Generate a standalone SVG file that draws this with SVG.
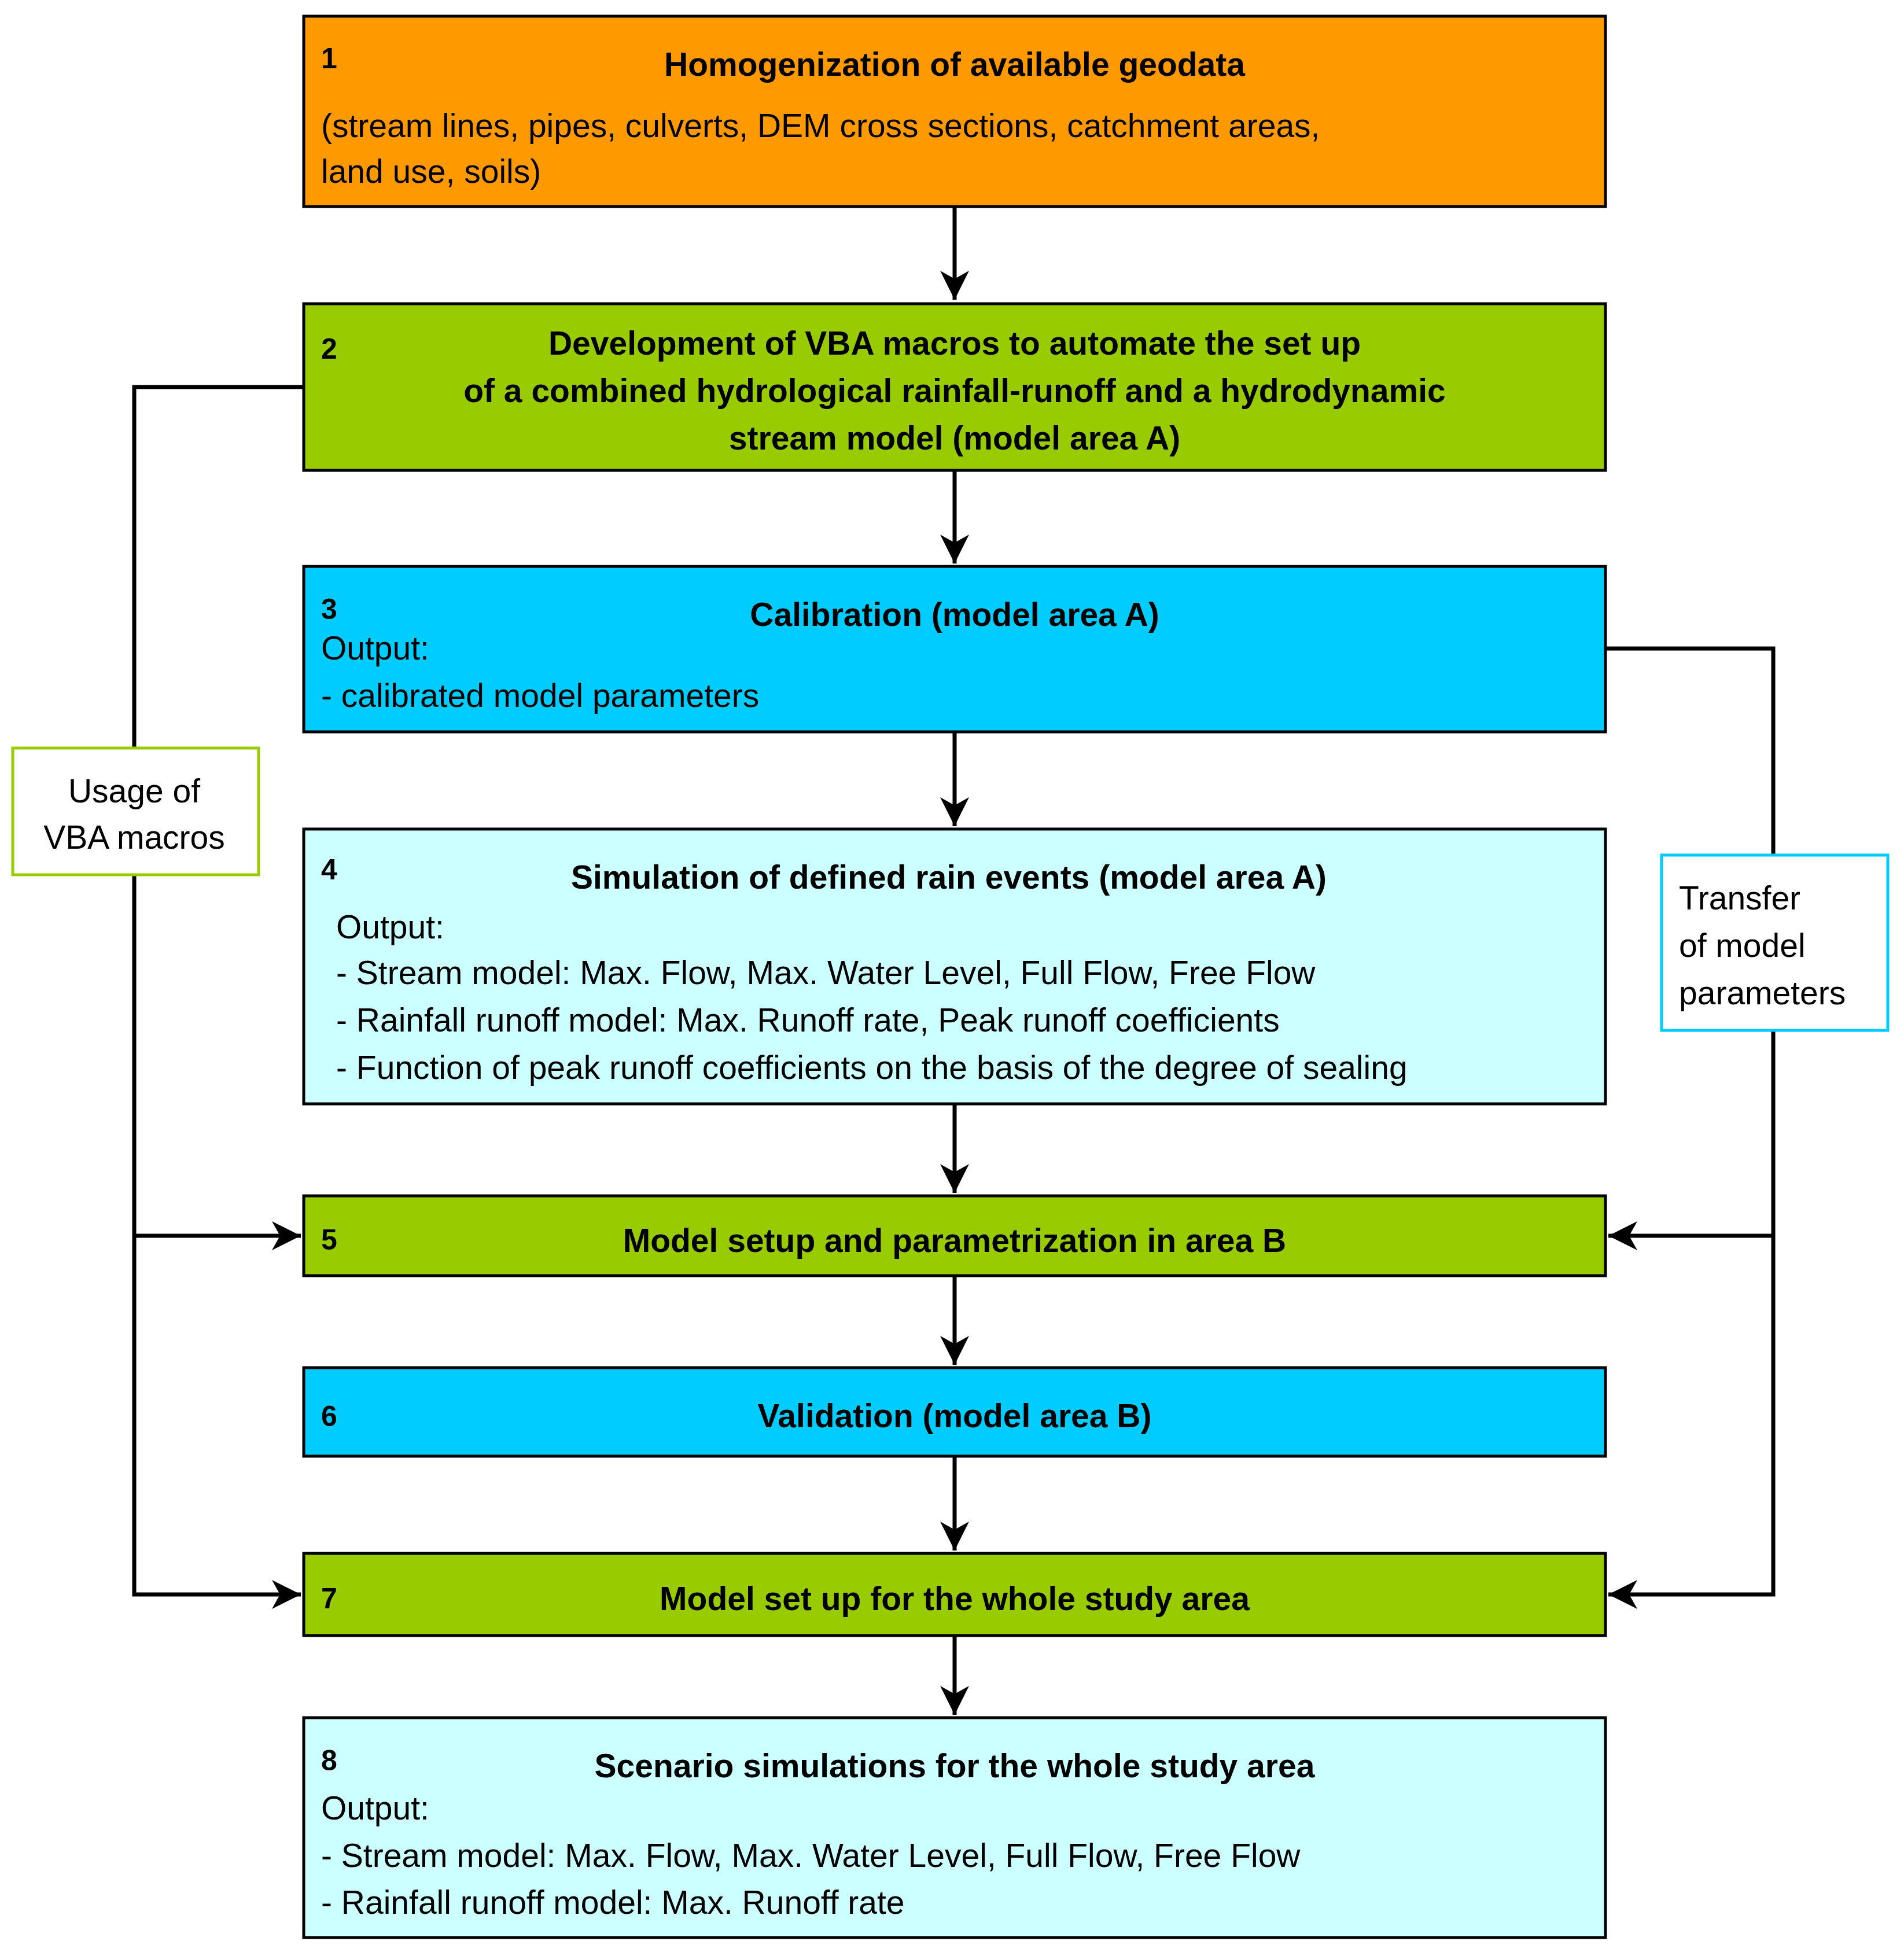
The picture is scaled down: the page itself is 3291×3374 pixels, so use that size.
<svg xmlns="http://www.w3.org/2000/svg" width="3291" height="3374" viewBox="0 0 3291 3374">
<style>
.b{stroke:#000;stroke-width:5}
.t{font-family:"Liberation Sans",Arial,sans-serif;font-size:57px;fill:#000}
.h{font-weight:bold;text-anchor:middle}
.n{font-weight:bold;font-size:50px}
.c{fill:none;stroke:#000;stroke-width:7}
</style>
<defs>
<marker id="a" markerUnits="userSpaceOnUse" markerWidth="60" markerHeight="60" refX="50" refY="25" orient="auto" viewBox="0 0 60 50">
<path d="M0,0 L50,25 L0,50 L14,25 Z" fill="#000"/>
</marker>
</defs>
<rect width="3291" height="3374" fill="#fff"/>
<g id="connectors">
<path class="c" d="M1650,357 V518" marker-end="url(#a)"/>
<path class="c" d="M1650,813 V974" marker-end="url(#a)"/>
<path class="c" d="M1650,1265 V1428" marker-end="url(#a)"/>
<path class="c" d="M1650,1908 V2062" marker-end="url(#a)"/>
<path class="c" d="M1650,2205 V2359" marker-end="url(#a)"/>
<path class="c" d="M1650,2517 V2680" marker-end="url(#a)"/>
<path class="c" d="M1650,2827 V2964" marker-end="url(#a)"/>
<path class="c" d="M525,669 H232 V2756 H520" marker-end="url(#a)"/>
<path class="c" d="M232,2136 H520" marker-end="url(#a)"/>
<path class="c" d="M2775,1121 H3065 V2756 H2780" marker-end="url(#a)"/>
<path class="c" d="M3065,2136 H2780" marker-end="url(#a)"/>
</g>
<g id="n1"><rect class="b" x="525" y="28" width="2250" height="329" fill="#FF9900"/>
<text class="t n" x="555" y="118">1</text>
<text class="t h" x="1650" y="131">Homogenization of available geodata</text>
<text class="t" x="555" y="237">(stream lines, pipes, culverts, DEM cross sections, catchment areas,</text>
<text class="t" x="555" y="316">land use, soils)</text></g>
<g id="n2"><rect class="b" x="525" y="525" width="2250" height="288" fill="#99CC00"/>
<text class="t n" x="555" y="620">2</text>
<text class="t h" x="1650" y="613">Development of VBA macros to automate the set up</text>
<text class="t h" x="1650" y="695">of a combined hydrological rainfall-runoff and a hydrodynamic</text>
<text class="t h" x="1650" y="777">stream model (model area A)</text></g>
<g id="n3"><rect class="b" x="525" y="979" width="2250" height="286" fill="#00CCFF"/>
<text class="t n" x="555" y="1070">3</text>
<text class="t h" x="1650" y="1082">Calibration (model area A)</text>
<text class="t" x="555" y="1140">Output:</text>
<text class="t" x="555" y="1222">- calibrated model parameters</text></g>
<g id="n4"><rect class="b" x="525" y="1433" width="2250" height="475" fill="#CCFFFF"/>
<text class="t n" x="555" y="1520">4</text>
<text class="t h" x="1640" y="1536">Simulation of defined rain events (model area A)</text>
<text class="t" x="581" y="1622">Output:</text>
<text class="t" x="581" y="1701">- Stream model: Max. Flow, Max. Water Level,  Full Flow, Free Flow</text>
<text class="t" x="581" y="1783">- Rainfall runoff model: Max. Runoff rate, Peak runoff coefficients</text>
<text class="t" x="581" y="1865">- Function of peak runoff coefficients on the basis of the degree of sealing</text></g>
<g id="n5"><rect class="b" x="525" y="2067" width="2250" height="138" fill="#99CC00"/>
<text class="t n" x="555" y="2160">5</text>
<text class="t h" x="1650" y="2164">Model setup and parametrization in area B</text></g>
<g id="n6"><rect class="b" x="525" y="2364" width="2250" height="153" fill="#00CCFF"/>
<text class="t n" x="555" y="2465">6</text>
<text class="t h" x="1650" y="2467">Validation (model area B)</text></g>
<g id="n7"><rect class="b" x="525" y="2685" width="2250" height="142" fill="#99CC00"/>
<text class="t n" x="555" y="2780">7</text>
<text class="t h" x="1650" y="2783">Model set up for the whole study area</text></g>
<g id="n8"><rect class="b" x="525" y="2969" width="2250" height="380" fill="#CCFFFF"/>
<text class="t n" x="555" y="3060">8</text>
<text class="t h" x="1650" y="3072">Scenario simulations for the whole study area</text>
<text class="t" x="555" y="3145">Output:</text>
<text class="t" x="555" y="3227">- Stream model: Max. Flow, Max. Water Level,  Full Flow, Free Flow</text>
<text class="t" x="555" y="3308">- Rainfall runoff model: Max. Runoff rate</text></g>
<g id="usage"><rect x="22" y="1293" width="425" height="219" fill="#fff" stroke="#99CC00" stroke-width="5"/>
<text class="t" x="232" y="1387" text-anchor="middle">Usage of</text>
<text class="t" x="232" y="1467" text-anchor="middle">VBA macros</text></g>
<g id="transfer"><rect x="2872" y="1478" width="391" height="303" fill="#fff" stroke="#00CCFF" stroke-width="5"/>
<text class="t" x="2902" y="1572">Transfer</text>
<text class="t" x="2902" y="1654">of model</text>
<text class="t" x="2902" y="1736">parameters</text></g>
</svg>
